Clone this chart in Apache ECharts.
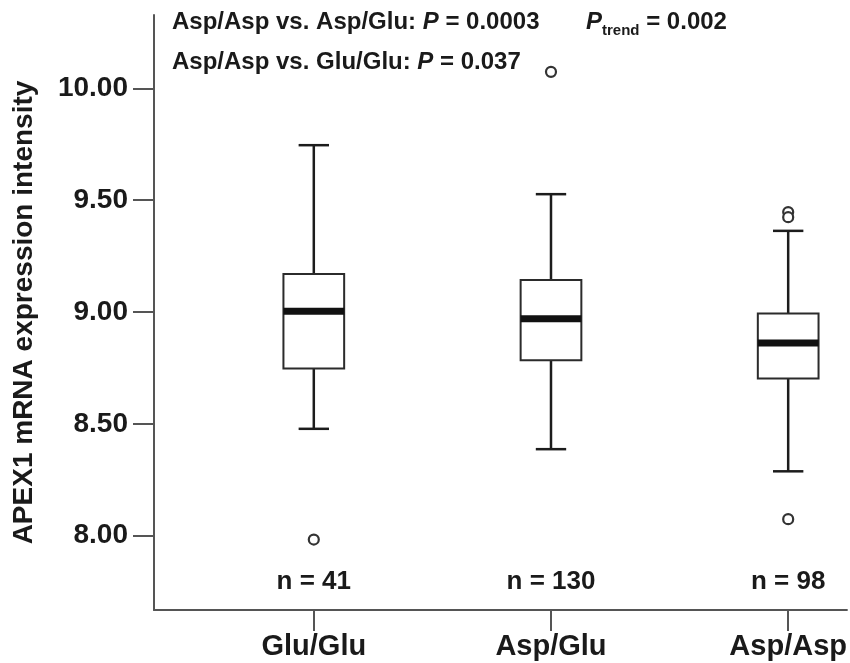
<!DOCTYPE html>
<html>
<head>
<meta charset="utf-8">
<title>APEX1 mRNA expression by genotype</title>
<script src="https://cdn.jsdelivr.net/npm/echarts@6.0.0/dist/echarts.min.js"></script>
<style>
    html, body { margin: 0; padding: 0; background: #fff; }
    #chart { width: 850px; height: 663px; }
</style>
</head>
<body>
<div id="chart"></div>
<script>
    // genotype groups (x categories)
    const groups = ['Glu/Glu', 'Asp/Glu', 'Asp/Asp'];
    const nCounts = [41, 130, 98];

    // box statistics
    const whiskerLow = [8.478, 8.387, 8.288];
    const q1 = [8.748, 8.785, 8.703];
    const median = [9.004, 8.970, 8.862];
    const q3 = [9.170, 9.143, 8.994];
    const whiskerHigh = [9.746, 9.527, 9.363];

    // outliers: [group index, value]
    const outliers = [[0, 7.983], [1, 10.074], [2, 9.447], [2, 9.424], [2, 8.074]];

    const yTicks = [8.0, 8.5, 9.0, 9.5, 10.0];

    const FONT = '"Liberation Sans", Arial, sans-serif';
    const INK = '#1a1a1a';
    const AXIS = '#555';

    const boxRows = groups.map((g, i) => [i, whiskerLow[i], q1[i], median[i], q3[i], whiskerHigh[i]]);
    const labelLevel = 7.793; // where the n = ... labels sit

    function renderBox(params, api) {
        const x = api.value(0);
        const pLow = api.coord([x, api.value(1)]);
        const pQ1 = api.coord([x, api.value(2)]);
        const pMed = api.coord([x, api.value(3)]);
        const pQ3 = api.coord([x, api.value(4)]);
        const pHigh = api.coord([x, api.value(5)]);
        const unit = api.size([1, 0])[0];
        const bw = unit * 0.256;   // box width
        const cw = bw * 0.5;        // whisker cap width
        const cx = pQ1[0];
        const lineStyle = { stroke: '#1c1c1c', lineWidth: 2.5 };
        return {
            type: 'group',
            children: [
                { type: 'line', shape: { x1: cx, y1: pQ3[1], x2: cx, y2: pHigh[1] }, style: lineStyle },
                { type: 'line', shape: { x1: cx, y1: pQ1[1], x2: cx, y2: pLow[1] }, style: lineStyle },
                { type: 'line', shape: { x1: cx - cw / 2, y1: pHigh[1], x2: cx + cw / 2, y2: pHigh[1] }, style: lineStyle },
                { type: 'line', shape: { x1: cx - cw / 2, y1: pLow[1], x2: cx + cw / 2, y2: pLow[1] }, style: lineStyle },
                {
                    type: 'rect',
                    shape: { x: cx - bw / 2, y: pQ3[1], width: bw, height: pQ1[1] - pQ3[1] },
                    style: { fill: '#fff', stroke: '#2b2b2b', lineWidth: 2 }
                },
                {
                    type: 'rect',
                    shape: { x: cx - bw / 2, y: pMed[1] - 3.5, width: bw, height: 7 },
                    style: { fill: '#111' }
                }
            ]
        };
    }

    const option = {
        animation: false,
        backgroundColor: '#fff',
        grid: { left: 154, right: 0, top: 15, bottom: 53 },
        xAxis: {
            type: 'value',
            min: -0.6737,
            max: 2.2477,
            splitLine: { show: false },
            axisLine: { show: true, onZero: false, lineStyle: { color: AXIS, width: 2 } },
            axisTick: { show: true, length: 21, customValues: [0, 1, 2], lineStyle: { color: AXIS, width: 2 } },
            axisLabel: {
                customValues: [0, 1, 2],
                formatter: v => groups[Math.round(v)],
                margin: 22,
                color: INK,
                fontSize: 29,
                fontWeight: 'bold',
                fontFamily: FONT
            }
        },
        yAxis: {
            type: 'value',
            min: 7.668,
            max: 10.328,
            name: 'APEX1 mRNA expression intensity',
            nameLocation: 'middle',
            nameGap: 116,
            nameTextStyle: { color: INK, fontSize: 28, fontWeight: 'bold', fontFamily: FONT },
            splitLine: { show: false },
            axisLine: { show: true, onZero: false, lineStyle: { color: AXIS, width: 2 } },
            axisTick: { show: true, length: 21, customValues: yTicks, lineStyle: { color: AXIS, width: 2 } },
            axisLabel: {
                customValues: yTicks,
                formatter: v => v.toFixed(2),
                margin: 26,
                color: INK,
                fontSize: 28,
                fontWeight: 'bold',
                fontFamily: FONT
            }
        },
        graphic: [
            {
                type: 'text', x: 172, y: 22,
                style: {
                    text: 'Asp/Asp vs. Asp/Glu: {i|P} = 0.0003',
                    font: 'bold 24px ' + FONT,
                    fill: INK,
                    textVerticalAlign: 'middle',
                    rich: { i: { font: 'italic bold 24px ' + FONT, fill: INK } }
                }
            },
            {
                type: 'text', x: 586, y: 22,
                style: {
                    text: '{i|P}{sub|trend}{b| = 0.002}',
                    font: 'bold 24px ' + FONT,
                    fill: INK,
                    textVerticalAlign: 'middle',
                    rich: {
                        i: { font: 'italic bold 24px ' + FONT, fill: INK },
                        sub: { font: 'bold 15px ' + FONT, fill: INK, padding: [18, 0, 0, 0] },
                        b: { font: 'bold 24px ' + FONT, fill: INK }
                    }
                }
            },
            {
                type: 'text', x: 172, y: 62,
                style: {
                    text: 'Asp/Asp vs. Glu/Glu: {i|P} = 0.037',
                    font: 'bold 24px ' + FONT,
                    fill: INK,
                    textVerticalAlign: 'middle',
                    rich: { i: { font: 'italic bold 24px ' + FONT, fill: INK } }
                }
            }
        ],
        series: [
            {
                name: 'box',
                type: 'custom',
                renderItem: renderBox,
                encode: { x: 0, y: [1, 2, 3, 4, 5] },
                data: boxRows,
                z: 2
            },
            {
                name: 'outliers',
                type: 'scatter',
                symbol: 'circle',
                symbolSize: 10,
                itemStyle: { color: '#fff', borderColor: '#333', borderWidth: 2.2, opacity: 1 },
                data: outliers,
                z: 3
            },
            {
                name: 'counts',
                type: 'scatter',
                symbolSize: 0,
                silent: true,
                itemStyle: { opacity: 1 },
                data: groups.map((g, i) => [i, labelLevel, nCounts[i]]),
                label: {
                    show: true,
                    position: 'inside',
                    formatter: p => 'n = ' + p.value[2],
                    color: INK,
                    fontSize: 26,
                    fontWeight: 'bold',
                    fontFamily: FONT
                }
            }
        ]
    };

    const myChart = echarts.init(document.getElementById('chart'));
    myChart.setOption(option);
</script>
</body>
</html>
